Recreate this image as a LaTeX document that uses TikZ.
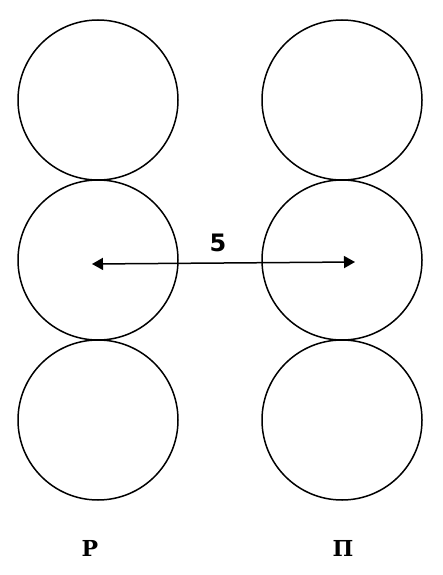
\documentclass[tikz,border=0pt]{standalone}
\usepackage{fontspec}
\newfontfamily\labfont{DejaVu Serif}
\newfontfamily\numfont{DejaVu Sans}
\usetikzlibrary{arrows.meta}
\begin{document}
\begin{tikzpicture}[x=1pt,y=-1pt,
  ball/.style={circle,draw,line width=1.5pt,minimum size=160pt,inner sep=0pt},
  lab/.style={font=\labfont\bfseries\fontsize{22}{24}\selectfont,inner sep=0pt},
  num/.style={font=\numfont\bfseries\fontsize{24}{26}\selectfont,inner sep=0pt}]
\useasboundingbox (0,0) rectangle (443,575);
\node[ball] (l1) at (98,100) {};
\node[ball] (l2) at (98,260) {};
\node[ball] (l3) at (98,420) {};
\node[ball] (r1) at (342,100) {};
\node[ball] (r2) at (342,260) {};
\node[ball] (r3) at (342,420) {};
\coordinate (al) at (92,264);
\coordinate (ar) at (355,262);
\draw[line width=1.5pt,{Triangle[length=11pt,width=12pt]}-{Triangle[length=11pt,width=12pt]}] (al) -- (ar);
\node[num] (five) at (218,243) {5};
\node[lab] (p) at (90,548) {Р};
\node[lab] (pi) at (343,548) {П};
\end{tikzpicture}
\end{document}
